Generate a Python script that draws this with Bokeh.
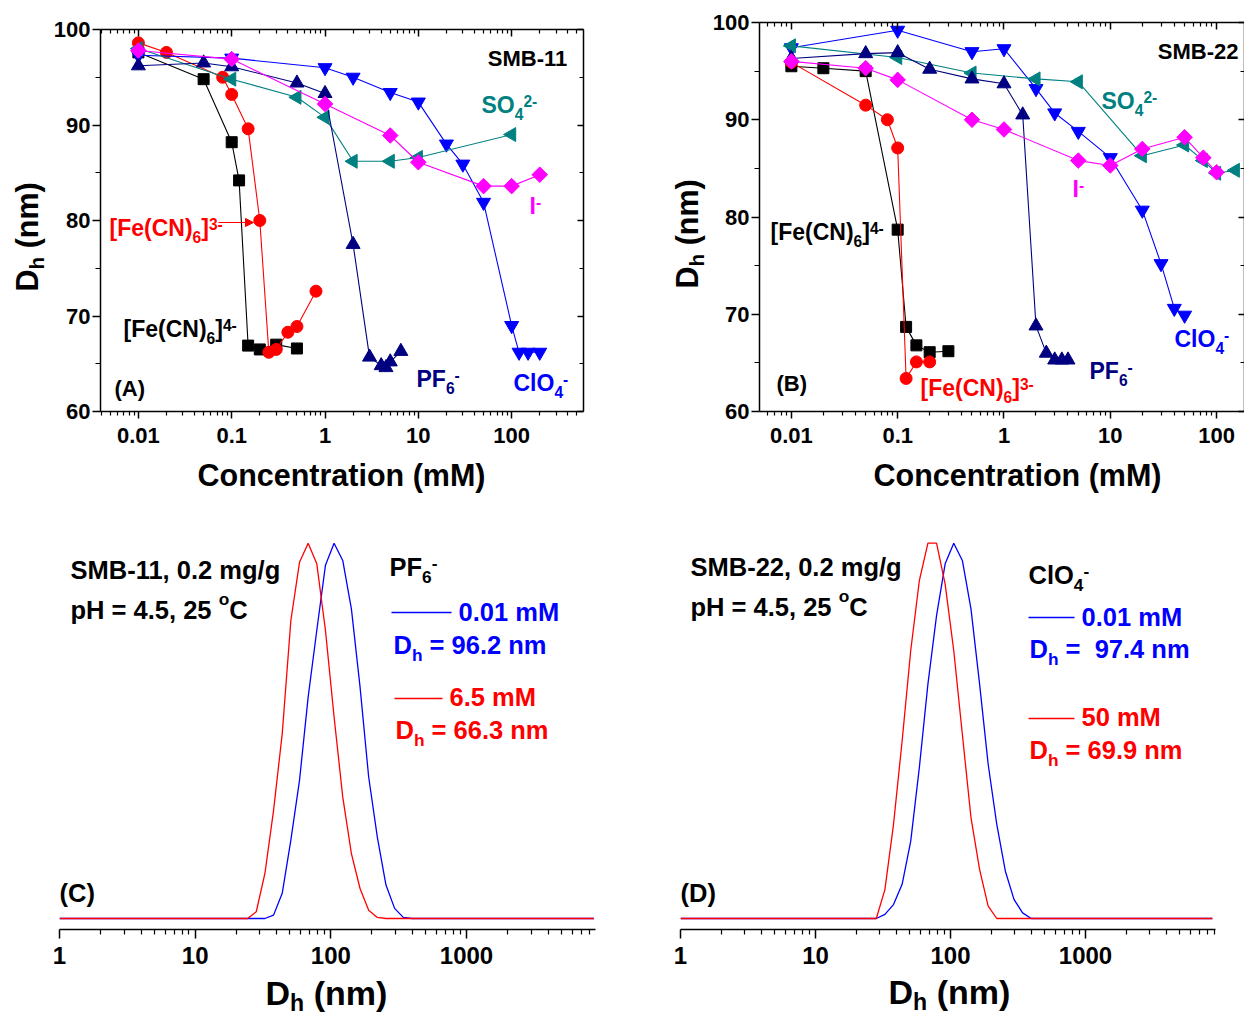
import math
from bokeh.plotting import figure
from bokeh.models import (Label, Arrow, NormalHead, LogAxis, LinearAxis, FixedTicker,
                          CustomJSTickFormatter, Range1d, Spacer)
from bokeh.layouts import column, row
from bokeh.embed import file_html
from bokeh.resources import INLINE

# ------------------------------------------------------------------ data
CONC_TICKS = [0.01, 0.1, 1, 10, 100]
CONC_TICK_LABELS = ["0.01", "0.1", "1", "10", "100"]
DH_TICKS = [60, 70, 80, 90, 100]
DH_MINOR = [65, 75, 85, 95]
SIZE_TICKS = [1, 10, 100, 1000]
SIZE_TICK_LABELS = ["1", "10", "100", "1000"]

# Panel A (SMB-11): concentration (mM) vs Dh (nm)
A_fe4_x = [0.01, 0.05, 0.1, 0.12, 0.15, 0.2, 0.3, 0.5]
A_fe4_y = [97.6, 94.8, 88.2, 84.2, 66.9, 66.5, 67.0, 66.6]
A_fe3_x = [0.01, 0.02, 0.08, 0.1, 0.15, 0.2, 0.25, 0.3, 0.4, 0.5, 0.8]
A_fe3_y = [98.6, 97.6, 95.0, 93.2, 89.6, 80.0, 66.2, 66.5, 68.3, 68.9, 72.6]
A_pf6_x = [0.01, 0.05, 0.1, 0.5, 1, 2, 3, 4, 4.5, 5, 6.5]
A_pf6_y = [96.2, 96.5, 96.1, 94.4, 93.3, 77.5, 65.7, 64.8, 64.6, 65.2, 66.3]
A_clo4_x = [0.01, 0.1, 1, 2, 5, 10, 20, 30, 50, 100, 120, 150, 200]
A_clo4_y = [97.3, 97.0, 96.0, 95.0, 93.4, 92.4, 88.0, 85.9, 81.9, 69.0, 66.2, 66.2, 66.2]
A_so4_x = [0.01, 0.1, 0.5, 1, 2, 5, 10, 100]
A_so4_y = [98.0, 94.8, 92.9, 90.8, 86.2, 86.2, 86.6, 89.0]
A_i_x = [0.01, 0.1, 1, 5, 10, 50, 100, 200]
A_i_y = [97.8, 96.9, 92.2, 88.9, 86.1, 83.6, 83.6, 84.8]

# Panel B (SMB-22)
B_fe4_x = [0.01, 0.02, 0.05, 0.1, 0.12, 0.15, 0.2, 0.3]
B_fe4_y = [95.5, 95.3, 95.0, 78.7, 68.7, 66.8, 66.1, 66.2]
B_fe3_x = [0.01, 0.05, 0.08, 0.1, 0.12, 0.15, 0.2]
B_fe3_y = [95.9, 91.5, 90.0, 87.1, 63.4, 65.1, 65.1]
B_pf6_x = [0.01, 0.05, 0.1, 0.2, 0.5, 1, 1.5, 2, 2.5, 3, 3.5, 4]
B_pf6_y = [96.3, 96.8, 96.9, 95.2, 94.2, 93.7, 90.5, 68.8, 66.0, 65.3, 65.3, 65.3]
B_clo4_x = [0.01, 0.1, 0.5, 1, 2, 3, 5, 10, 20, 30, 40, 50]
B_clo4_y = [97.4, 99.2, 97.0, 97.3, 93.2, 90.7, 88.8, 86.1, 80.7, 75.2, 70.6, 69.9]
B_so4_x = [0.01, 0.1, 0.5, 2, 5, 20, 50, 75, 100, 150]
B_so4_y = [97.6, 96.4, 94.8, 94.2, 93.9, 86.3, 87.4, 85.8, 84.5, 84.8]
B_i_x = [0.01, 0.05, 0.1, 0.5, 1, 5, 10, 20, 50, 75, 100]
B_i_y = [96.0, 95.3, 94.1, 90.0, 89.0, 85.8, 85.3, 87.0, 88.2, 86.1, 84.6]

# Panel C (SMB-11, PF6-): size distribution, normalised intensity
C_blue_x = [1, 28.21, 32.67, 37.84, 43.82, 50.75, 58.77, 68.06, 78.82, 91.28, 105.7,
            122.4, 141.8, 164.2, 190.1, 220.2, 255.0, 295.3, 342.0, 396.1, 8700]
C_blue_y = [0, 0, 0, 0.9, 6.7, 20.9, 36.8, 59.0, 76.8, 94.1, 100,
            95.4, 82.5, 61.7, 37.7, 21.7, 8.9, 2.7, 0.3, 0, 0]
C_red_x = [1, 24.36, 28.21, 32.67, 37.84, 43.82, 50.75, 58.77, 68.06, 78.82, 91.28,
           105.7, 122.4, 141.8, 164.2, 190.1, 220.2, 255.0, 8700]
C_red_y = [0, 0, 1.8, 12.0, 28.8, 49.2, 79.4, 94.9, 100, 94.5, 76.8,
           53.7, 32.4, 17.3, 8.0, 2.2, 0.3, 0, 0]

# Panel D (SMB-22, ClO4-)
D_blue_x = [1, 28.21, 32.67, 37.84, 43.82, 50.75, 58.77, 68.06, 78.82, 91.28, 105.7,
            122.4, 141.8, 164.2, 190.1, 220.2, 255.0, 295.3, 342.0, 396.1, 8700]
D_blue_y = [0, 0, 1.1, 3.7, 9.1, 20.6, 40.2, 62.5, 80.7, 94.5, 100,
            95.4, 82.5, 62.5, 41.1, 25.1, 12.6, 5.1, 1.5, 0, 0]
D_red_x = [1, 28.21, 32.67, 37.84, 43.82, 50.75, 58.77, 68.06, 78.82, 91.28, 105.7,
           122.4, 141.8, 164.2, 190.1, 220.2, 8700]
D_red_y = [0, 0, 7.7, 25.1, 47.3, 71.4, 90.0, 100, 100, 89.1, 71.4,
           49.1, 26.9, 13.1, 3.3, 0, 0]

# ------------------------------------------------------------------ styling helpers
FONT = "Liberation Sans"
BLACK, RED, NAVY, BLUE, TEAL, MAG = "#000000", "#FF0000", "#000080", "#0000FF", "#008080", "#FF00FF"

W = {' ': .278, '\u00a0': .278, '(': .333, ')': .333, '-': .333, '.': .278, '/': .278,
     ',': .278, '=': .584, '[': .333, ']': .333, 'A': .722, 'B': .722, 'C': .722, 'D': .722,
     'F': .611, 'H': .722, 'I': .278, 'M': .833, 'N': .722, 'O': .778, 'P': .667, 'S': .667,
     'a': .556, 'c': .556, 'e': .556, 'g': .611, 'h': .611, 'i': .278, 'l': .278, 'm': .889,
     'n': .611, 'o': .611, 'p': .611, 'r': .389, 't': .333}
for d in "0123456789":
    W[d] = .556


def tw(s, size):
    return sum(W.get(ch, .556) for ch in s) * size


KIND = {"n": (1.0, 0.0), "sub": (0.68, 0.30), "sub2": (0.68, 0.20), "sup": (0.68, -0.27),
        "deg": (0.68, -0.55)}
CORR = -0.34   # empirical baseline correction (fraction of font size)


def rich(p, org, X, Y, parts, size, color, angle=0.0, align="left"):
    """Place a run of text pieces; X, Y = page position of the baseline start."""
    fl, fb = org
    total = sum(tw(t, size * KIND[k][0]) for t, k in parts)
    if align == "right":
        X -= total
    elif align == "center":
        X -= total / 2
    adv = 0.0
    for t, k in parts:
        sf, of = KIND[k]
        s = size * sf
        lead = len(t) - len(t.lstrip(" "))
        adv += lead * W[" "] * s
        txt = t.lstrip(" ").replace("  ", " \u00a0")
        off = of * size + CORR * s
        if angle == 0:
            px, py = X + adv, Y + off
        else:
            px, py = X + off, Y - adv
        if txt:
            p.add_layout(Label(x=px - fl, y=fb - py, x_units="screen", y_units="screen", text=txt,
                               angle=angle, text_font=FONT, text_font_size=f"{s:.1f}px",
                               text_font_style="bold", text_color=color,
                               text_baseline="alphabetic", text_align="left"))
        adv += tw(txt, s)


def tick_formatter(ticks, labels):
    return CustomJSTickFormatter(args=dict(t=ticks, l=labels), code="""
        for (let i = 0; i < t.length; i++) {
            if (Math.abs(t[i] - tick) <= 1e-6 * t[i]) return l[i];
        }
        return '';""")


def minor_logs(e0, e1):
    return [k * 10.0 ** e for e in range(e0, e1) for k in range(2, 10)]


def base_fig(width, height, left, right, top, bottom, xr, yr, log=True):
    p = figure(width=width, height=height, x_axis_type="log" if log else "linear",
               x_range=Range1d(*xr), y_range=Range1d(*yr), output_backend="svg",
               toolbar_location=None, min_border_left=left, min_border_right=right,
               min_border_top=top, min_border_bottom=bottom,
               x_axis_location=None, y_axis_location=None)
    p.outline_line_color = None
    p.background_fill_color = "white"
    p.border_fill_color = "white"
    p.grid.visible = False
    return p


def strip(w, h, top=0, bottom=0):
    """Empty canvas that only carries text (axis titles)."""
    return base_fig(w, h, 0, 0, top, bottom, (0, w), (0, h - top - bottom), log=False)


def axis_common(ax, size, hidden=False):
    ax.axis_line_color = BLACK
    ax.axis_line_width = 1.5
    ax.major_tick_line_width = 1.5
    ax.minor_tick_line_width = 1.2
    ax.major_label_text_font = FONT
    ax.major_label_text_font_style = "bold"
    ax.major_label_text_font_size = size
    ax.major_label_text_color = BLACK
    if hidden:
        ax.major_label_text_alpha = 0.0


def conc_fig(width, height, left, right, top, frame_h, xr):
    p = base_fig(width, height, left, right, top, height - top - frame_h, xr, (60, 100))
    bx = LogAxis(ticker=FixedTicker(ticks=CONC_TICKS, minor_ticks=minor_logs(-3, 3)),
                 formatter=tick_formatter(CONC_TICKS, CONC_TICK_LABELS),
                 major_tick_out=7, major_tick_in=0, minor_tick_out=4, minor_tick_in=0,
                 major_label_standoff=9)
    axis_common(bx, "22px")
    p.add_layout(bx, "below")
    tx = LogAxis(ticker=FixedTicker(ticks=CONC_TICKS, minor_ticks=minor_logs(-3, 3)),
                 formatter=tick_formatter(CONC_TICKS, CONC_TICK_LABELS),
                 major_tick_out=0, major_tick_in=7, minor_tick_out=0, minor_tick_in=4,
                 major_label_standoff=0)
    axis_common(tx, "1px", hidden=True)
    p.add_layout(tx, "above")
    ly = LinearAxis(ticker=FixedTicker(ticks=DH_TICKS, minor_ticks=DH_MINOR),
                    major_tick_out=8, major_tick_in=0, minor_tick_out=5, minor_tick_in=0,
                    major_label_standoff=2)
    axis_common(ly, "22px")
    p.add_layout(ly, "left")
    ry = LinearAxis(ticker=FixedTicker(ticks=DH_TICKS, minor_ticks=DH_MINOR),
                    major_tick_out=0, major_tick_in=6, minor_tick_out=0, minor_tick_in=4,
                    major_label_standoff=0)
    axis_common(ry, "1px", hidden=True)
    p.add_layout(ry, "right")
    return p


def series(p, xs, ys, color, marker, size, angle=0.0):
    p.line(xs, ys, line_color=color, line_width=1.1)
    p.scatter(xs, ys, marker=marker, size=size, angle=angle, fill_color=color, line_color=color)


def draw_conc(p, d):
    series(p, d["fe4"][0], d["fe4"][1], BLACK, "square", 11)
    series(p, d["fe3"][0], d["fe3"][1], RED, "circle", 12)
    series(p, d["clo4"][0], d["clo4"][1], BLUE, "inverted_triangle", 14)
    series(p, d["so4"][0], d["so4"][1], TEAL, "triangle", 14, angle=math.pi / 2)
    series(p, d["pf6"][0], d["pf6"][1], NAVY, "triangle", 14)
    series(p, d["i"][0], d["i"][1], MAG, "square", 11, angle=math.pi / 4)


FE3 = [("[Fe(CN)", "n"), ("6", "sub"), ("]", "n"), ("3-", "sup")]
FE4 = [("[Fe(CN)", "n"), ("6", "sub"), ("]", "n"), ("4-", "sup")]
SO4 = [("SO", "n"), ("4", "sub"), ("2-", "sup")]
IOD = [("I", "n"), ("-", "sup")]
PF6 = [("PF", "n"), ("6", "sub"), ("-", "sup")]
CLO4 = [("ClO", "n"), ("4", "sub"), ("-", "sup")]
DH_NM = [("D", "n"), ("h", "sub"), (" (nm)", "n")]
DH_NM_2 = [("D", "n"), ("h", "sub2"), (" (nm)", "n")]

# ------------------------------------------------------------------ row 1: panels A, B
TOP_H = 458   # row height; all frames in this row: top border 22, bottom border 47
pA = conc_fig(590, TOP_H - 7, 49, 57, 22, 382, (10 ** -2.406, 10 ** 2.77))
draw_conc(pA, dict(fe4=(A_fe4_x, A_fe4_y), fe3=(A_fe3_x, A_fe3_y), pf6=(A_pf6_x, A_pf6_y),
                   clo4=(A_clo4_x, A_clo4_y), so4=(A_so4_x, A_so4_y), i=(A_i_x, A_i_y)))
oA = (99, 411)
rich(pA, oA, 567, 65, [("SMB-11", "n")], 22, BLACK, align="right")
rich(pA, oA, 480, 112, SO4, 23, TEAL)
rich(pA, oA, 528, 213, IOD, 23, MAG)
rich(pA, oA, 108, 235, FE3, 23, RED)
rich(pA, oA, 122, 336, FE4, 23, BLACK)
rich(pA, oA, 415, 386, PF6, 23, NAVY)
rich(pA, oA, 512, 390, CLO4, 23, BLUE)
rich(pA, oA, 113, 395, [("(A)", "n")], 22, BLACK)
pA.add_layout(Arrow(end=NormalHead(size=8, fill_color=RED, line_color=RED),
                    x_start=217 - 99, y_start=411 - 222, x_end=252 - 99, y_end=411 - 222,
                    start_units="screen", end_units="screen", line_color=RED, line_width=1))

pB = conc_fig(535, TOP_H, 48, 0, 22, 389, (10 ** -2.2998, 10 ** 2.2623))
draw_conc(pB, dict(fe4=(B_fe4_x, B_fe4_y), fe3=(B_fe3_x, B_fe3_y), pf6=(B_pf6_x, B_pf6_y),
                   clo4=(B_clo4_x, B_clo4_y), so4=(B_so4_x, B_so4_y), i=(B_i_x, B_i_y)))
oB = (757, 411)
rich(pB, oB, 1236, 58, [("SMB-22", "n")], 22, BLACK, align="right")
rich(pB, oB, 1099, 108, SO4, 23, TEAL)
rich(pB, oB, 1070, 196, IOD, 23, MAG)
rich(pB, oB, 768, 239, FE4, 23, BLACK)
rich(pB, oB, 918, 395, FE3, 23, RED)
rich(pB, oB, 1087, 378, PF6, 23, NAVY)
rich(pB, oB, 1172, 346, CLO4, 23, BLUE)
rich(pB, oB, 774, 390, [("(B)", "n")], 22, BLACK)

# y-axis titles of A and B (own text strips, same borders as the plots beside them)
sAy = strip(50, TOP_H, top=22, bottom=47)
rich(sAy, (0, 411), 37, 291, DH_NM_2, 30.5, BLACK, angle=math.pi / 2)
sBy = strip(69, TOP_H, top=22, bottom=47)
rich(sBy, (640, 411), 697, 288, DH_NM_2, 30.5, BLACK, angle=math.pi / 2)

# x-axis titles of A and B
sX = strip(1244, 500 - TOP_H)
rich(sX, (0, 500), 341, 485, [("Concentration (mM)", "n")], 30.5, BLACK, align="center")
rich(sX, (0, 500), 1017, 485, [("Concentration (mM)", "n")], 30.5, BLACK, align="center")


# ------------------------------------------------------------------ row 2: panels C, D
BOT_H = 474


def dist_fig(width, left, right, xr):
    p = base_fig(width, BOT_H, left, right, 30, BOT_H - 30 - 399, xr, (-2.93, 103.38))
    ax = LogAxis(ticker=FixedTicker(ticks=SIZE_TICKS, minor_ticks=minor_logs(0, 4)),
                 formatter=tick_formatter(SIZE_TICKS, SIZE_TICK_LABELS),
                 major_tick_out=9, major_tick_in=0, minor_tick_out=5, minor_tick_in=0,
                 major_label_standoff=8)
    axis_common(ax, "24px")
    p.add_layout(ax, "below")
    return p


TS = 25.5
pC = dist_fig(620, 59, 25, (1, 10 ** 3.951))
pC.line(C_blue_x, C_blue_y, line_color=BLUE, line_width=1.3)
pC.line(C_red_x, C_red_y, line_color=RED, line_width=1.3)
oC = (59, 929)
rich(pC, oC, 70, 578, [("SMB-11, 0.2 mg/g", "n")], TS, BLACK)
rich(pC, oC, 70, 618, [("pH = 4.5, 25 ", "n"), ("o", "deg"), ("C", "n")], TS, BLACK)
rich(pC, oC, 389, 575, PF6, TS, BLACK)
pC.add_layout(Arrow(end=None, x_start=391 - 59, y_start=929 - 612, x_end=451 - 59, y_end=929 - 612,
                    start_units="screen", end_units="screen", line_color=BLUE, line_width=1.3))
rich(pC, oC, 458, 620, [("0.01 mM", "n")], TS, BLUE)
rich(pC, oC, 393, 653, [("D", "n"), ("h", "sub"), (" = 96.2 nm", "n")], TS, BLUE)
pC.add_layout(Arrow(end=None, x_start=394 - 59, y_start=929 - 698, x_end=442 - 59, y_end=929 - 698,
                    start_units="screen", end_units="screen", line_color=RED, line_width=1.3))
rich(pC, oC, 449, 705, [("6.5 mM", "n")], TS, RED)
rich(pC, oC, 395, 738, [("D", "n"), ("h", "sub"), (" = 66.3 nm", "n")], TS, RED)
rich(pC, oC, 59, 901, [("(C)", "n")], TS, BLACK)

pD = dist_fig(624, 60, 29, (1, 10 ** 3.963))
pD.line(D_blue_x, D_blue_y, line_color=BLUE, line_width=1.3)
pD.line(D_red_x, D_red_y, line_color=RED, line_width=1.3)
oD = (680, 929)
rich(pD, oD, 690, 575, [("SMB-22, 0.2 mg/g", "n")], TS, BLACK)
rich(pD, oD, 690, 615, [("pH = 4.5, 25 ", "n"), ("o", "deg"), ("C", "n")], TS, BLACK)
rich(pD, oD, 1028, 583, CLO4, TS, BLACK)
pD.add_layout(Arrow(end=None, x_start=1028 - 680, y_start=929 - 617, x_end=1074 - 680, y_end=929 - 617,
                    start_units="screen", end_units="screen", line_color=BLUE, line_width=1.3))
rich(pD, oD, 1081, 625, [("0.01 mM", "n")], TS, BLUE)
rich(pD, oD, 1029, 657, [("D", "n"), ("h", "sub"), (" =  97.4 nm", "n")], TS, BLUE)
pD.add_layout(Arrow(end=None, x_start=1028 - 680, y_start=929 - 718, x_end=1074 - 680, y_end=929 - 718,
                    start_units="screen", end_units="screen", line_color=RED, line_width=1.3))
rich(pD, oD, 1081, 725, [("50 mM", "n")], TS, RED)
rich(pD, oD, 1029, 758, [("D", "n"), ("h", "sub"), (" = 69.9 nm", "n")], TS, RED)
rich(pD, oD, 680, 901, [("(D)", "n")], TS, BLACK)

# x-axis titles of C and D
sZ = strip(1244, 1016 - 500 - BOT_H)
rich(sZ, (0, 1016), 265, 1004, DH_NM_2, 34, BLACK)
rich(sZ, (0, 1016), 888, 1003, DH_NM_2, 34, BLACK)

layout = column(row(sAy, column(Spacer(width=590, height=7), pA), sBy, pB),
                sX, row(pC, pD), sZ)
open("out.html", "w").write(file_html(layout, INLINE))
